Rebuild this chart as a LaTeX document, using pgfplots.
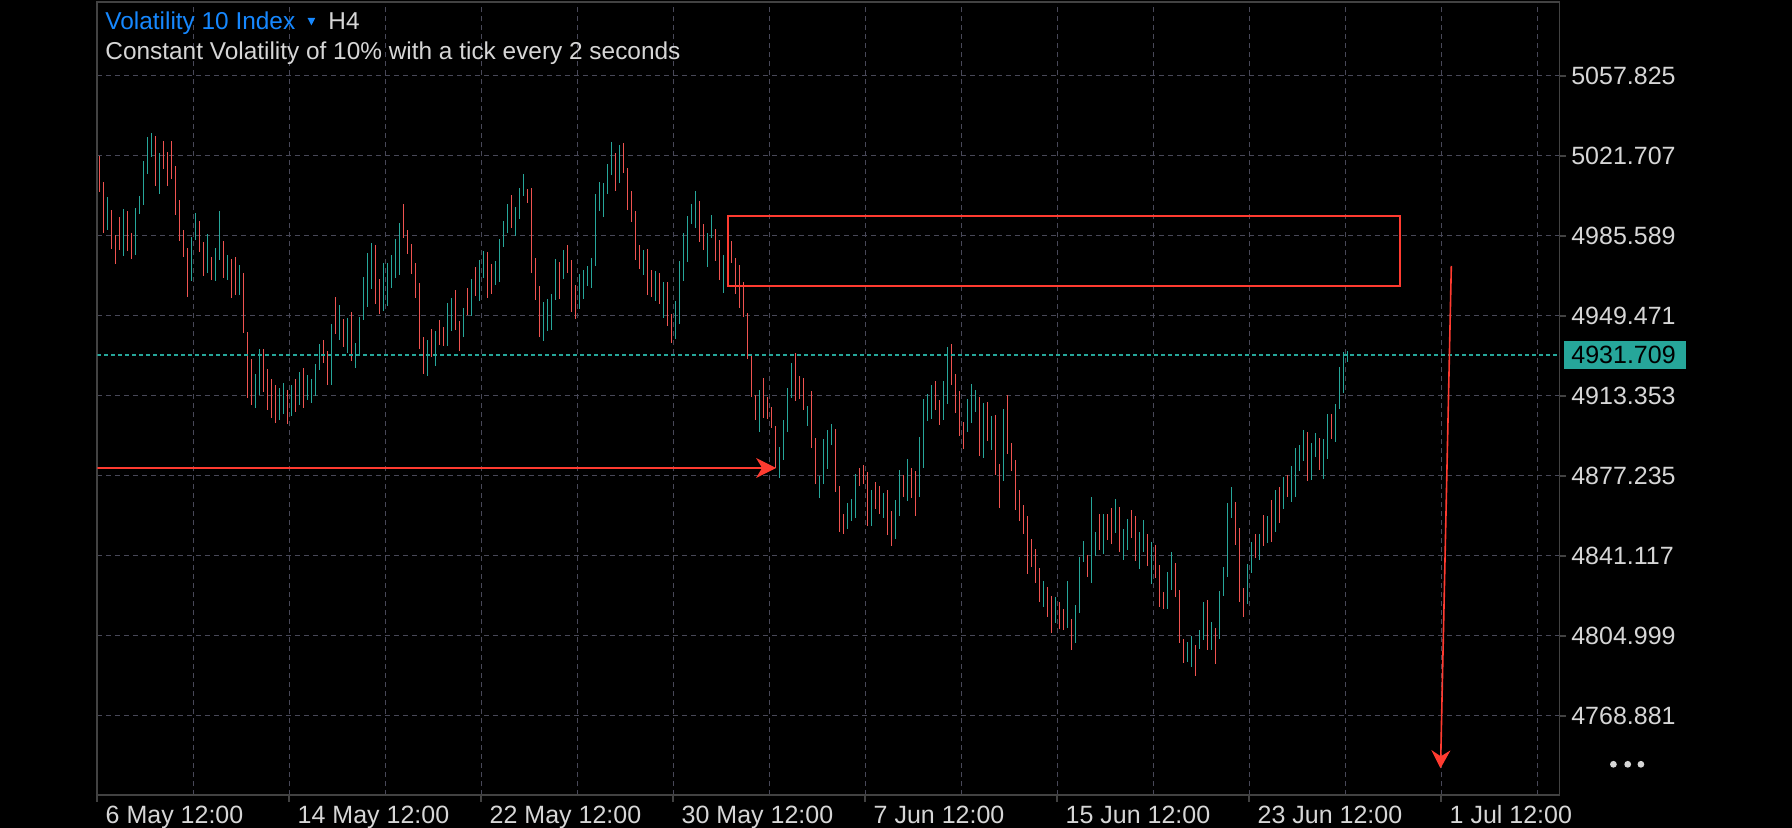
\documentclass[border=0pt]{standalone}
\usepackage{fontspec}
\setmainfont{Liberation Sans}
\usepackage{pgfplots}
\usepackage{pgfplotstable}
\pgfplotsset{compat=1.18}
\usetikzlibrary{arrows.meta}

\definecolor{upc}{RGB}{38,166,154}
\definecolor{dnc}{RGB}{239,83,80}
\definecolor{anno}{RGB}{255,59,48}
\definecolor{gridc}{RGB}{72,72,88}
\definecolor{framec}{RGB}{66,66,66}
\definecolor{labelc}{RGB}{214,214,214}
\definecolor{titleblue}{RGB}{22,136,255}

% H4 bars: i = bar number from 6 May 12:00, d = 1 up / 0 down
\pgfplotstableread{
i lo hi d
0 5005.45 5021.57 0
1 4986.94 5009.83 0
2 4988.29 5003.05 1
3 4979.71 4997.18 0
4 4972.94 4985.90 0
5 4979.26 4994.02 0
6 4976.55 4997.64 1
7 4978.81 4996.74 0
8 4975.20 4986.80 0
9 4977.00 4998.09 1
10 4995.52 5003.37 1
11 4999.58 5019.31 1
12 5013.57 5030.14 1
13 5021.25 5031.95 1
14 5008.16 5030.60 0
15 5004.55 5022.92 1
16 5015.83 5028.34 0
17 5008.16 5023.37 0
18 5011.32 5028.34 0
19 4995.07 5017.05 0
20 4983.32 5001.70 0
21 4976.10 4988.16 0
22 4958.04 4980.03 0
23 4965.27 4984.99 1
24 4983.77 4995.83 1
25 4978.36 4992.22 0
26 4967.52 4982.74 0
27 4968.88 4986.35 1
28 4965.58 4976.10 0
29 4965.27 4980.03 1
30 4974.75 4996.74 1
31 4966.62 4983.19 0
32 4965.72 4976.87 1
33 4957.59 4975.06 0
34 4958.94 4975.96 0
35 4958.94 4972.35 1
36 4941.79 4968.74 0
37 4912.30 4942.10 0
38 4909.14 4929.91 0
39 4907.79 4923.14 1
40 4913.66 4934.43 1
41 4915.01 4934.43 0
42 4906.89 4925.40 0
43 4903.27 4920.88 0
44 4901.01 4918.17 0
45 4902.37 4916.82 1
46 4905.08 4919.08 1
47 4900.56 4915.92 0
48 4904.18 4918.17 1
49 4905.98 4920.88 0
50 4909.14 4924.04 1
51 4907.79 4925.85 0
52 4911.40 4922.69 1
53 4910.05 4920.88 1
54 4913.21 4927.65 1
55 4924.95 4936.68 1
56 4928.11 4938.49 0
57 4918.17 4933.52 0
58 4918.17 4945.71 1
59 4941.20 4957.90 0
60 4938.49 4954.29 1
61 4935.33 4947.97 0
62 4932.62 4948.42 1
63 4929.01 4951.13 0
64 4925.85 4937.14 1
65 4931.72 4948.87 1
66 4947.52 4966.93 1
67 4953.39 4977.77 1
68 4961.51 4982.29 1
69 4954.74 4981.38 0
70 4950.23 4966.03 0
71 4951.58 4973.26 1
72 4953.84 4973.26 1
73 4961.97 4976.87 1
74 4966.62 4984.09 1
75 4967.97 4991.32 1
76 4984.68 4999.89 0
77 4977.45 4988.16 0
78 4968.42 4981.83 0
79 4957.59 4973.26 0
80 4934.56 4964.23 0
81 4923.14 4939.84 0
82 4922.24 4938.49 1
83 4930.81 4943.46 0
84 4926.75 4942.55 1
85 4936.37 4947.52 0
86 4935.78 4944.36 0
87 4935.78 4955.20 1
88 4942.55 4957.45 1
89 4943.01 4961.07 0
90 4933.52 4947.07 0
91 4939.84 4952.94 1
92 4949.78 4961.97 0
93 4949.33 4966.03 1
94 4958.36 4971.45 0
95 4956.10 4974.61 1
96 4966.48 4978.68 1
97 4957.45 4978.22 0
98 4959.26 4972.80 0
99 4963.32 4974.16 1
100 4964.68 4984.09 1
101 4980.48 4992.22 1
102 4986.80 4999.89 1
103 4989.06 5003.96 0
104 4985.45 4998.54 1
105 4993.12 5007.12 1
106 5003.51 5013.44 1
107 5000.35 5006.67 0
108 4968.74 5007.12 0
109 4956.55 4975.51 0
110 4939.84 4962.87 0
111 4938.04 4955.65 1
112 4942.55 4957.00 1
113 4943.01 4959.26 1
114 4956.55 4975.06 1
115 4957.00 4973.71 0
116 4966.03 4979.13 1
117 4968.74 4981.38 0
118 4951.13 4974.61 0
119 4947.97 4963.32 0
120 4952.49 4968.29 1
121 4957.00 4970.10 1
122 4962.87 4971.90 1
123 4961.97 4975.51 1
124 4971.90 5004.41 1
125 4996.74 5009.83 1
126 4994.02 5009.38 1
127 5004.41 5017.95 1
128 5012.99 5027.89 1
129 5005.76 5022.92 0
130 5009.38 5026.53 1
131 5013.89 5027.44 0
132 4997.18 5016.15 0
133 4991.77 5005.76 0
134 4974.61 4996.74 0
135 4970.55 4981.38 0
136 4967.84 4979.13 1
137 4958.81 4979.58 0
138 4957.90 4970.10 0
139 4956.10 4969.64 1
140 4954.74 4968.74 0
141 4948.42 4964.68 1
142 4944.81 4964.68 0
143 4937.14 4950.23 0
144 4938.94 4956.10 1
145 4945.71 4974.16 1
146 4965.13 4986.80 1
147 4973.71 4994.48 1
148 4990.87 4999.89 1
149 4989.06 5005.76 1
150 4982.74 5001.25 0
151 4979.13 4990.87 0
152 4971.45 4986.80 1
153 4984.54 4994.93 1
154 4974.16 4988.61 0
155 4965.58 4983.64 0
156 4959.71 4976.87 1
157 4964.68 4979.13 0
158 4973.26 4983.19 0
159 4959.26 4975.51 0
160 4952.94 4972.35 0
161 4948.87 4964.68 0
162 4929.91 4950.68 0
163 4912.75 4932.17 0
164 4902.37 4913.66 0
165 4896.95 4915.92 1
166 4903.27 4921.33 0
167 4902.82 4912.75 0
168 4898.76 4908.24 0
169 4880.70 4899.66 0
170 4876.18 4890.18 1
171 4884.31 4902.37 1
172 4896.95 4916.82 1
173 4912.30 4928.11 1
174 4910.95 4932.62 0
175 4911.85 4922.24 0
176 4906.89 4921.33 0
177 4899.66 4908.69 1
178 4889.73 4915.46 0
179 4873.47 4894.24 0
180 4867.15 4877.09 1
181 4873.47 4893.79 1
182 4880.25 4897.86 1
183 4891.08 4900.56 1
184 4869.86 4898.31 0
185 4851.80 4872.57 0
186 4850.90 4859.93 0
187 4853.16 4864.90 1
188 4856.77 4866.70 1
189 4858.12 4877.99 1
190 4872.57 4880.70 0
191 4873.47 4882.05 0
192 4854.51 4878.89 0
193 4854.51 4870.77 1
194 4862.19 4874.38 0
195 4859.93 4872.57 0
196 4858.12 4869.41 1
197 4850.45 4870.77 0
198 4845.48 4861.28 0
199 4848.64 4866.25 1
200 4859.03 4879.80 1
201 4867.60 4877.54 0
202 4865.80 4884.76 1
203 4867.15 4880.70 0
204 4859.03 4879.34 0
205 4867.60 4894.69 1
206 4880.70 4911.85 1
207 4901.92 4914.11 1
208 4902.82 4918.17 1
209 4906.89 4919.98 0
210 4900.11 4911.40 0
211 4902.37 4919.98 1
212 4909.60 4935.33 1
213 4918.17 4936.68 0
214 4905.53 4923.14 0
215 4895.15 4915.46 0
216 4889.28 4901.47 0
217 4896.95 4911.85 1
218 4901.01 4918.63 1
219 4905.98 4915.92 1
220 4886.12 4912.75 0
221 4885.21 4910.05 1
222 4892.89 4910.50 0
223 4888.83 4904.18 1
224 4877.54 4904.63 0
225 4862.64 4882.50 0
226 4874.83 4907.34 1
227 4887.02 4913.66 0
228 4879.34 4891.99 0
229 4861.74 4884.31 0
230 4856.77 4870.77 0
231 4850.90 4863.99 0
232 4832.84 4859.03 0
233 4836.00 4848.64 0
234 4828.78 4844.13 0
235 4820.20 4835.55 0
236 4817.94 4829.68 1
237 4813.43 4826.97 0
238 4806.20 4822.91 0
239 4810.72 4822.45 1
240 4808.01 4820.20 0
241 4807.56 4817.04 0
242 4808.46 4829.68 1
243 4798.53 4812.52 0
244 4801.69 4818.84 1
245 4815.23 4840.52 1
246 4838.26 4847.74 1
247 4831.49 4841.42 0
248 4828.78 4867.60 1
249 4840.97 4851.80 1
250 4843.68 4859.93 0
251 4841.87 4859.93 1
252 4848.19 4859.93 0
253 4846.38 4862.64 0
254 4851.35 4866.70 1
255 4842.77 4863.09 0
256 4839.16 4853.16 1
257 4843.68 4857.67 1
258 4849.09 4861.74 0
259 4838.71 4859.03 0
260 4835.10 4851.80 1
261 4842.77 4857.22 1
262 4836.45 4850.90 0
263 4828.32 4847.29 1
264 4831.04 4845.93 0
265 4817.94 4836.90 0
266 4817.04 4824.72 0
267 4817.04 4833.74 1
268 4825.62 4842.77 1
269 4822.45 4837.81 0
270 4801.69 4825.62 0
271 4792.66 4803.50 0
272 4793.11 4802.14 1
273 4790.85 4804.85 1
274 4786.79 4800.78 0
275 4798.98 4807.56 1
276 4803.04 4820.20 1
277 4798.53 4821.10 0
278 4798.53 4811.17 1
279 4792.21 4808.46 0
280 4803.50 4825.17 1
281 4822.91 4836.00 1
282 4831.49 4864.90 1
283 4858.12 4872.12 1
284 4845.93 4865.35 0
285 4820.20 4853.61 0
286 4813.43 4826.52 0
287 4819.29 4837.35 1
288 4833.29 4847.29 1
289 4840.06 4850.90 0
290 4839.16 4850.90 1
291 4845.48 4859.48 0
292 4846.84 4859.03 1
293 4847.29 4866.25 0
294 4851.80 4870.77 1
295 4855.87 4872.12 0
296 4862.19 4876.63 1
297 4867.60 4877.54 0
298 4865.35 4881.60 1
299 4867.60 4889.73 1
300 4879.34 4891.08 1
301 4883.86 4897.86 1
302 4874.83 4896.95 0
303 4875.28 4891.99 1
304 4885.66 4896.50 1
305 4879.80 4894.24 0
306 4875.73 4893.79 1
307 4884.76 4905.08 1
308 4893.79 4905.08 0
309 4892.44 4909.60 1
310 4907.34 4926.30 1
311 4914.56 4933.07 1
312 4928.56 4933.52 1
}\hfour

\begin{document}
\begin{tikzpicture}
\fill[black] (0,0) rectangle (896pt,414pt);
\path[use as bounding box] (0,0) rectangle (896pt,414pt);
\begin{axis}[
  at={(48.65pt,16.35pt)}, anchor=south west,
  width=731.1pt, height=396.65pt, scale only axis,
  xmin=-0.5, xmax=365.05, ymin=4732.92, ymax=5091.1,
  axis line style={framec, line width=0.9pt},
  xtick={-0.5,47.5,95.5,143.5,191.5,239.5,287.5,335.5},
  xticklabels={6 May 12:00,14 May 12:00,22 May 12:00,30 May 12:00,7 Jun 12:00,15 Jun 12:00,23 Jun 12:00,1 Jul 12:00},
  minor xtick={23.5,71.5,119.5,167.5,215.5,263.5,311.5,359.5},
  ytick={4768.881,4804.999,4841.117,4877.235,4913.353,4949.471,4985.589,5021.707,5057.825},
  yticklabels={4768.881,4804.999,4841.117,4877.235,4913.353,4949.471,4985.589,5021.707,5057.825},
  xtick pos=left, ytick pos=right, yticklabel pos=right,
  tick align=outside,
  major tick length=3.3pt, minor tick length=0pt,
  major tick style={framec, line width=0.9pt},
  grid=both,
  major grid style={gridc, line width=0.5pt, dash pattern=on 2.5pt off 2pt},
  minor grid style={gridc, line width=0.5pt, dash pattern=on 2.5pt off 2pt},
  tick label style={font=\fontsize{12.5}{14}\selectfont, text=labelc},
  xticklabel style={anchor=base west, inner sep=0pt, xshift=4pt, yshift=-11pt},
  yticklabel style={anchor=west, inner sep=0pt, xshift=2.4pt},
]
\addplot[draw=none, mark=none, forget plot,
  restrict expr to domain={\thisrow{d}}{0.5:1.5},
  error bars/.cd, y dir=plus, y explicit, error mark=none,
  error bar style={draw=upc, line width=0.7pt, solid}]
  table[x=i, y=lo, y error expr=\thisrow{hi}-\thisrow{lo}] {\hfour};
\addplot[draw=none, mark=none, forget plot,
  restrict expr to domain={\thisrow{d}}{-0.5:0.5},
  error bars/.cd, y dir=plus, y explicit, error mark=none,
  error bar style={draw=dnc, line width=0.7pt, solid}]
  table[x=i, y=lo, y error expr=\thisrow{hi}-\thisrow{lo}] {\hfour};
% current price line
\addplot[upc, line width=1pt, dash pattern=on 2pt off 1.5pt, forget plot]
  coordinates {(-0.5,4931.709) (365.05,4931.709)};
% hand-drawn annotations
\draw[anno, line width=1pt] (axis cs:157.2,4963.01) rectangle (axis cs:325.2,4994.61);
\draw[anno, line width=0.6pt, -{Stealth[length=10pt,width=10pt,inset=3pt]}]
  (axis cs:-0.5,4880.70) -- (axis cs:169.2,4880.70);
\draw[anno, line width=0.8pt, -{Stealth[length=9pt,width=9.5pt,inset=3pt]}]
  (axis cs:338.0,4971.90) -- (axis cs:335.3,4745.11);
\coordinate (pl) at (axis cs:365.05,4931.709);
\end{axis}
\node[fill=upc, anchor=west, inner xsep=3.5pt, inner ysep=0pt, minimum height=14pt,
  text width=54pt, text=black, font=\fontsize{12.5}{14}\selectfont]
  at ([xshift=2.25pt]pl) {4931.709};
\node[anchor=base west, inner sep=0pt, text=titleblue, font=\fontsize{12.2}{14}\selectfont]
  at (52.5pt,399.35pt) {Volatility 10 Index};
\fill[titleblue] (153.8pt,405pt) -- (157.6pt,405pt) -- (155.7pt,401.3pt) -- cycle;
\node[anchor=base west, inner sep=0pt, text=labelc, font=\fontsize{12.2}{14}\selectfont]
  at (164pt,399.35pt) {H4};
\node[anchor=base west, inner sep=0pt, text=labelc, font=\fontsize{12.2}{14}\selectfont]
  at (52.5pt,384.35pt) {Constant Volatility of 10\% with a tick every 2 seconds};
\fill[labelc] (806.7pt,31.85pt) circle (1.7pt);
\fill[labelc] (813.85pt,31.85pt) circle (1.7pt);
\fill[labelc] (820.45pt,31.85pt) circle (1.7pt);
\end{tikzpicture}
\end{document}
